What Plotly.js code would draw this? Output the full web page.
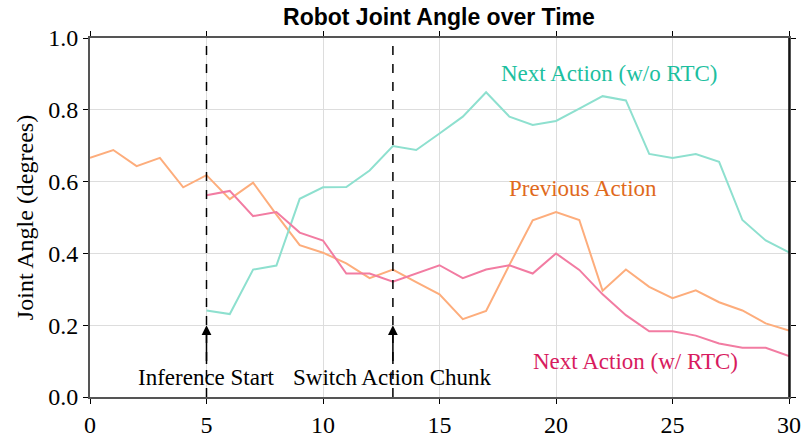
<!DOCTYPE html>
<html>
<head>
<meta charset="utf-8">
<script src="https://cdn.plot.ly/plotly-3.0.1.min.js"></script>
<style>html,body{margin:0;padding:0;background:#fff;}#chart{width:801px;height:437px;}</style>
</head>
<body>
<div id="chart"></div>
<script>
const timeSteps = [0,1,2,3,4,5,6,7,8,9,10,11,12,13,14,15,16,17,18,19,20,21,22,23,24,25,26,27,28,29,30];
const rtcSteps = [5,6,7,8,9,10,11,12,13,14,15,16,17,18,19,20,21,22,23,24,25,26,27,28,29,30];

const previousAction = [0.666,0.688,0.643,0.666,0.584,0.618,0.551,0.597,0.508,0.423,0.402,0.372,0.331,0.355,0.320,0.286,0.217,0.240,0.368,0.492,0.515,0.493,0.296,0.355,0.307,0.275,0.297,0.264,0.241,0.205,0.185];
const nextWithRTC = [0.562,0.574,0.504,0.515,0.458,0.436,0.344,0.344,0.321,0.344,0.367,0.331,0.355,0.367,0.344,0.400,0.354,0.286,0.228,0.183,0.183,0.171,0.149,0.137,0.137,0.114];
const nextWithoutRTC = [0.241,0.231,0.355,0.366,0.552,0.584,0.585,0.631,0.699,0.688,0.734,0.781,0.849,0.781,0.758,0.769,0.803,0.838,0.826,0.677,0.666,0.677,0.655,0.493,0.436,0.403];

const eventTimes = [5, 13];
const eventLabels = ['Inference Start', 'Switch Action Chunk'];

const seriesLabels = ['Next Action (w/o RTC)', 'Previous Action', 'Next Action (w/ RTC)'];
const labelX = [22.27, 21.16, 23.4];
const labelY = [0.9, 0.582, 0.1];

const lineColors = ['#8ee0cf', '#fdad7c', '#f27ca2'];
const textColors = ['#1dbf9f', '#e06a1c', '#d81b5e'];

const serif = 'Liberation Serif, Times New Roman, serif';

const traces = [
  {x: timeSteps, y: previousAction, mode: 'lines', name: 'Previous Action', line: {color: lineColors[1], width: 2}},
  {x: rtcSteps, y: nextWithoutRTC, mode: 'lines', name: 'Next Action (w/o RTC)', line: {color: lineColors[0], width: 2}},
  {x: rtcSteps, y: nextWithRTC, mode: 'lines', name: 'Next Action (w/ RTC)', line: {color: lineColors[2], width: 2}}
];

const shapes = eventTimes.map(t => ({
  type: 'line', xref: 'x', yref: 'y', x0: t, x1: t, y0: 0, y1: 1,
  line: {color: '#000', width: 1.5, dash: 'dash'}
}));
shapes.push({type: 'line', xref: 'paper', yref: 'paper', x0: 1, x1: 1, y0: 0, y1: 1, line: {color: '#000', width: 1.5}});

const annotations = [];
eventTimes.forEach((t, i) => {
  annotations.push({x: t, y: 0.2, ax: t, ay: 0.088, xref: 'x', yref: 'y', axref: 'x', ayref: 'y',
    showarrow: true, arrowhead: 2, arrowsize: 1.3, arrowwidth: 1.5, arrowcolor: '#000', text: ''});
  annotations.push({x: t, y: 0.053, xref: 'x', yref: 'y', showarrow: false, text: eventLabels[i],
    font: {family: serif, size: 23, color: '#000'}, xanchor: 'center', yanchor: 'middle'});
});
seriesLabels.forEach((s, i) => {
  annotations.push({x: labelX[i], y: labelY[i], xref: 'x', yref: 'y', showarrow: false, text: s,
    font: {family: serif, size: 23, color: textColors[i]}, xanchor: 'center', yanchor: 'middle'});
});

const layout = {
  width: 801, height: 437,
  margin: {l: 90, r: 12, t: 38, b: 40},
  paper_bgcolor: '#fff', plot_bgcolor: '#fff',
  showlegend: false,
  title: {text: 'Robot Joint Angle over Time', x: 0.548, xanchor: 'center', y: 0.962, yanchor: 'middle',
    font: {family: 'Liberation Sans, Arial, sans-serif', size: 23, color: '#000', weight: 'bold'}},
  xaxis: {range: [0, 30], tickvals: [0,5,10,15,20,25,30], showgrid: true, gridcolor: '#dddddd', gridwidth: 1,
    zeroline: false, showline: true, linecolor: '#555', linewidth: 2, mirror: 'ticks',
    ticks: 'outside', ticklen: 5, tickcolor: '#000', tickfont: {family: serif, size: 24, color: '#000'}},
  yaxis: {range: [0, 1], tickvals: [0,0.2,0.4,0.6,0.8,1.0], ticktext: ['0.0','0.2','0.4','0.6','0.8','1.0'],
    showgrid: true, gridcolor: '#dddddd', gridwidth: 1,
    zeroline: false, showline: true, linecolor: '#555', linewidth: 2, mirror: 'ticks',
    ticks: 'outside', ticklen: 5, tickcolor: '#000', tickfont: {family: serif, size: 24, color: '#000'},
    title: {text: 'Joint Angle (degrees)', font: {family: serif, size: 24, color: '#000'}, standoff: 8}},
  shapes: shapes,
  annotations: annotations
};

Plotly.newPlot('chart', traces, layout, {displayModeBar: false, staticPlot: true});
</script>
</body>
</html>
